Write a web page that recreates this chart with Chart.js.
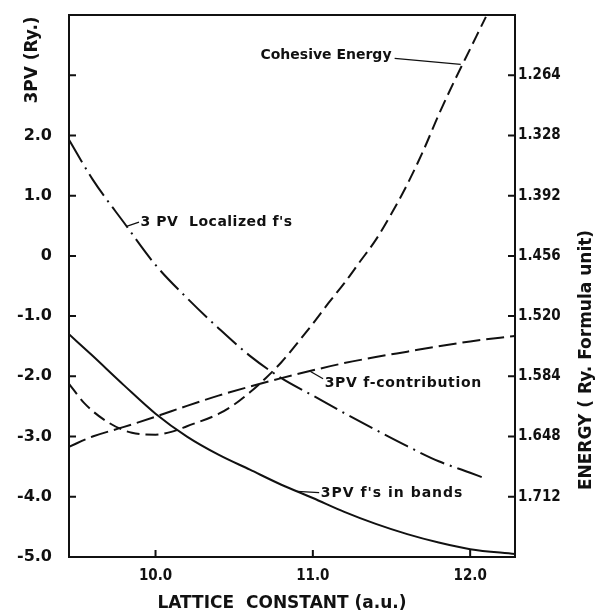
<!DOCTYPE html>
<html>
<head>
<meta charset="utf-8">
<script src="https://cdn.jsdelivr.net/npm/chart.js@4"></script>
<style>
  body { margin: 0; background: #fff; }
  #caja { width: 597px; height: 615px; }
</style>
</head>
<body>
<div id="caja"><canvas id="grafico"></canvas></div>
<script>
  // valores leidos de la figura
  // eje izquierdo: 3PV (Ry.)   eje derecho: energia (Ry. por formula), invertido
  let xCohesiva = [9.45, 9.55, 9.7, 9.85, 10.0, 10.1, 10.2, 10.4, 10.5, 10.6, 10.7, 10.8, 10.9, 11.0, 11.1, 11.2, 11.3, 11.4, 11.5, 11.6, 11.7, 11.8, 11.9, 12.0, 12.1]
  let energiaCohesiva = [1.592, 1.613, 1.633, 1.644, 1.646, 1.643, 1.637, 1.624, 1.614, 1.601, 1.586, 1.569, 1.549, 1.528, 1.506, 1.485, 1.462, 1.439, 1.411, 1.380, 1.345, 1.306, 1.270, 1.236, 1.202]

  let xLocalizados = [9.45, 9.6, 9.8, 10.0, 10.2, 10.4, 10.6, 10.8, 11.0, 11.2, 11.4, 11.6, 11.8, 12.0, 12.08]
  let pvLocalizados = [1.93, 1.27, 0.55, -0.15, -0.70, -1.2, -1.66, -2.03, -2.32, -2.61, -2.89, -3.16, -3.41, -3.6, -3.68]

  let xContribucion = [9.45, 9.6, 9.8, 10.0, 10.2, 10.4, 10.6, 10.8, 11.0, 11.2, 11.4, 11.6, 11.8, 12.0, 12.285]
  let pvContribucion = [-3.17, -3.0, -2.84, -2.67, -2.49, -2.32, -2.17, -2.03, -1.9, -1.78, -1.68, -1.59, -1.5, -1.42, -1.33]

  let xBandas = [9.45, 9.6, 9.8, 10.0, 10.2, 10.4, 10.6, 10.8, 11.0, 11.2, 11.4, 11.6, 11.8, 12.0, 12.285]
  let pvBandas = [-1.30, -1.66, -2.15, -2.62, -3.0, -3.3, -3.55, -3.8, -4.02, -4.25, -4.45, -4.62, -4.76, -4.87, -4.95]

  let ticksX = [10.0, 11.0, 12.0]
  let ticksPV = [-5, -4, -3, -2, -1, 0, 1, 2, 3]
  let etiquetasPV = ["-5.0", "-4.0", "-3.0", "-2.0", "-1.0", "0", "1.0", "2.0", ""]
  let ticksEnergia = [1.264, 1.328, 1.392, 1.456, 1.520, 1.584, 1.648, 1.712]

  function puntos(xs, ys) {
    return xs.map((x, i) => ({ x: x, y: ys[i] }))
  }

  const negro = "#111"
  const fuente = "'DejaVu Sans', sans-serif"
  const fuenteAngosta = "'DejaVu Sans Condensed', 'DejaVu Sans', sans-serif"

  // rotulos de las curvas (en coordenadas del eje izquierdo)
  let notas = [
    { texto: "Cohesive Energy", x: 11.50, y: 3.33, alinear: "right", esp: "0px", linea: [11.52, 3.28, 11.94, 3.18] },
    { texto: "3 PV  Localized f's", x: 9.905, y: 0.55, alinear: "left", esp: "0.5px", linea: [9.895, 0.56, 9.816, 0.49] },
    { texto: "3PV f-contribution", x: 11.075, y: -2.12, alinear: "left", esp: "0.7px", linea: [11.065, -2.04, 10.985, -1.92] },
    { texto: "3PV f's in bands", x: 11.05, y: -3.95, alinear: "left", esp: "1px", linea: [11.04, -3.93, 10.9, -3.91] }
  ]

  // sin relleno extra por medio rotulo arriba/abajo
  function sinRelleno(s) {
    s.paddingTop = 0
    s.paddingBottom = 0
  }

  // marco, marcas hacia adentro, rotulos y titulos de ejes
  const marco = {
    id: "marco",
    afterDraw(chart) {
      const c = chart.ctx
      const a = chart.chartArea
      const sx = chart.scales.x, sy = chart.scales.y, se = chart.scales.y2
      c.save()
      c.strokeStyle = negro
      c.lineWidth = 2
      c.strokeRect(a.left, a.top, a.right - a.left, a.bottom - a.top)

      c.beginPath()
      ticksX.forEach(v => {
        let px = sx.getPixelForValue(v)
        c.moveTo(px, a.bottom); c.lineTo(px, a.bottom - 7)
      })
      ticksPV.forEach(v => {
        let py = sy.getPixelForValue(v)
        if (py > a.top + 2 && py < a.bottom - 2) { c.moveTo(a.left, py); c.lineTo(a.left + 7, py) }
      })
      ticksEnergia.forEach(v => {
        let py = se.getPixelForValue(v)
        c.moveTo(a.right, py); c.lineTo(a.right - 7, py)
      })
      c.stroke()

      c.fillStyle = negro
      c.lineWidth = 1.3
      c.font = "bold 14px " + fuente
      c.textBaseline = "middle"
      notas.forEach(n => {
        c.textAlign = n.alinear
        c.letterSpacing = n.esp
        c.fillText(n.texto, sx.getPixelForValue(n.x), sy.getPixelForValue(n.y))
        c.beginPath()
        c.moveTo(sx.getPixelForValue(n.linea[0]), sy.getPixelForValue(n.linea[1]))
        c.lineTo(sx.getPixelForValue(n.linea[2]), sy.getPixelForValue(n.linea[3]))
        c.stroke()
      })
      c.letterSpacing = "0px"

      c.textAlign = "center"
      c.font = "bold 17px " + fuente
      c.save()
      c.translate(33, 60); c.rotate(-Math.PI / 2)
      c.fillText("3PV (Ry.)", 0, 0)
      c.restore()

      c.font = "bold 17px " + fuente
      c.save()
      c.translate(587, 360); c.rotate(-Math.PI / 2)
      c.fillText("ENERGY ( Ry. Formula unit)", 0, 0)
      c.restore()

      c.font = "bold 17px " + fuente
      c.fillText("LATTICE  CONSTANT (a.u.)", 282, 604)
      c.restore()
    }
  }

  var ctx = document.getElementById("grafico").getContext("2d")
  var grafico = new Chart(ctx, {
    type: "line",
    data: {
      datasets: [
        {
          label: "Cohesive Energy",
          data: puntos(xCohesiva, energiaCohesiva),
          yAxisID: "y2",
          borderDash: [13, 6]
        },
        {
          label: "3 PV Localized f's",
          data: puntos(xLocalizados, pvLocalizados),
          yAxisID: "y",
          borderDash: [26, 6, 2, 6]
        },
        {
          label: "3PV f-contribution",
          data: puntos(xContribucion, pvContribucion),
          yAxisID: "y",
          borderDash: [18, 6]
        },
        {
          label: "3PV f's in bands",
          data: puntos(xBandas, pvBandas),
          yAxisID: "y"
        }
      ]
    },
    options: {
      responsive: true,
      maintainAspectRatio: false,
      animation: false,
      layout: { padding: { top: 15, left: 0, right: 0, bottom: 0 } },
      elements: {
        point: { radius: 0 },
        line: { borderColor: negro, borderWidth: 2, cubicInterpolationMode: "monotone", fill: false }
      },
      plugins: {
        legend: { display: false },
        tooltip: { enabled: false }
      },
      scales: {
        x: {
          type: "linear",
          min: 9.45,
          max: 12.285,
          grid: { display: false, drawTicks: false },
          border: { display: false },
          afterBuildTicks: s => { s.ticks = ticksX.map(v => ({ value: v })) },
          afterFit: s => { s.height = 58; s.paddingLeft = 0; s.paddingRight = 0 },
          ticks: {
            padding: 10,
            color: negro,
            font: { family: fuenteAngosta, size: 15, weight: "bold" },
            callback: v => v.toFixed(1)
          }
        },
        y: {
          position: "left",
          min: -5,
          max: 4,
          grid: { display: false, drawTicks: false },
          border: { display: false },
          afterBuildTicks: s => { s.ticks = ticksPV.map(v => ({ value: v })) },
          afterFit: s => { s.width = 69; sinRelleno(s) },
          ticks: {
            padding: 17,
            color: negro,
            font: { family: fuente, size: 16, weight: "bold" },
            callback: v => etiquetasPV[ticksPV.indexOf(v)]
          }
        },
        y2: {
          position: "right",
          reverse: true,
          min: 1.2,
          max: 1.776,
          grid: { display: false, drawTicks: false },
          border: { display: false },
          afterBuildTicks: s => { s.ticks = ticksEnergia.map(v => ({ value: v })) },
          afterFit: s => { s.width = 82; sinRelleno(s) },
          ticks: {
            padding: 3,
            color: negro,
            font: { family: fuenteAngosta, size: 15, weight: "bold" },
            callback: v => v.toFixed(3)
          }
        }
      }
    },
    plugins: [marco]
  })
</script>
</body>
</html>
